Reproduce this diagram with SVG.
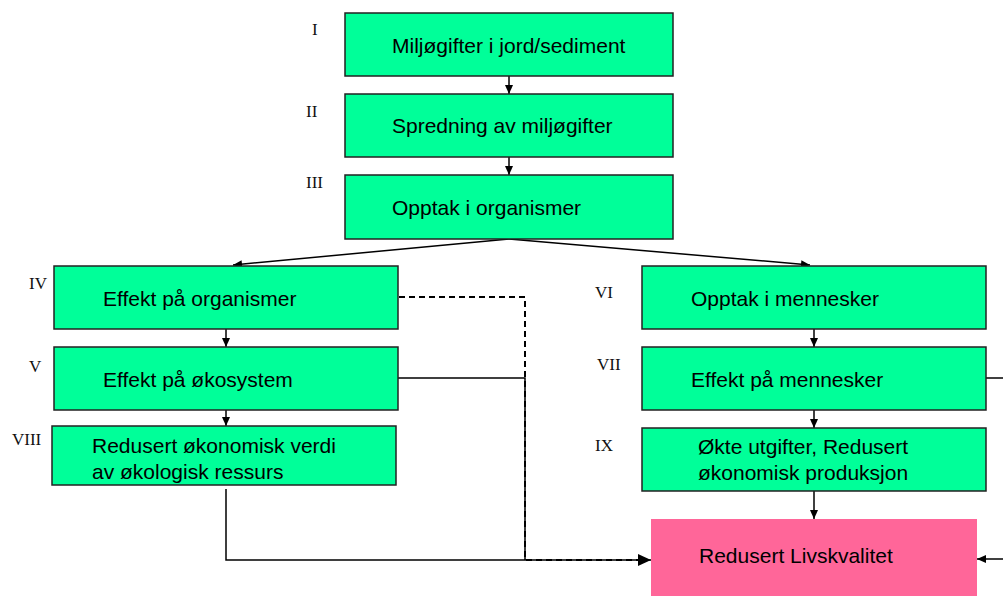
<svg xmlns="http://www.w3.org/2000/svg" width="1003" height="596" viewBox="0 0 1003 596">
<style>
.box{fill:#00FF99;stroke:#222;stroke-width:1.5}
.pink{fill:#FF6699;stroke:none}
.t{font-family:"Liberation Sans",Arial,sans-serif;font-size:21px;fill:#000}
.n{font-family:"Liberation Serif","Times New Roman",serif;font-size:17px;fill:#111}
.c{fill:none;stroke:#000;stroke-width:1.5}
.d{fill:none;stroke:#000;stroke-width:2;stroke-dasharray:6 4}
</style>
<defs>
<marker id="a" markerUnits="userSpaceOnUse" markerWidth="10" markerHeight="10" refX="9" refY="5" orient="auto"><path d="M0,1 L9,5 L0,9 Z" fill="#000"/></marker>
<marker id="b" markerUnits="userSpaceOnUse" markerWidth="14" markerHeight="14" refX="13" refY="7" orient="auto"><path d="M0,1 L13,7 L0,13 Z" fill="#000"/></marker>
</defs>
<rect width="1003" height="596" fill="#fff"/>
<g id="connectors">
<line class="c" x1="509" y1="76" x2="509" y2="94" marker-end="url(#a)"/>
<line class="c" x1="509" y1="157" x2="509" y2="175" marker-end="url(#a)"/>
<line class="c" x1="509" y1="239" x2="233" y2="265" marker-end="url(#a)"/>
<line class="c" x1="509" y1="239" x2="810" y2="265" marker-end="url(#a)"/>
<line class="c" x1="226" y1="329" x2="226" y2="347" marker-end="url(#a)"/>
<line class="c" x1="226" y1="410" x2="226" y2="426" marker-end="url(#a)"/>
<line class="c" x1="814" y1="329" x2="814" y2="347" marker-end="url(#a)"/>
<line class="c" x1="814" y1="410" x2="814" y2="428" marker-end="url(#a)"/>
<line class="c" x1="814" y1="491" x2="814" y2="519" marker-end="url(#a)"/>
<polyline class="c" points="397,378 525,378 525,560"/>
<polyline class="c" points="226,489 226,560 651,560" marker-end="url(#b)"/>
<polyline class="d" points="399,297 525,297 525,560 640,560"/>
<line class="c" x1="986" y1="378" x2="1003" y2="378"/>
<line class="c" x1="1003" y1="559" x2="977" y2="559" marker-end="url(#a)"/>
</g>
<g id="n1"><rect class="box" x="345" y="13" width="328" height="63"/><text class="t" x="392" y="53">Miljøgifter i jord/sediment</text><text class="n" x="312" y="35">I</text></g>
<g id="n2"><rect class="box" x="345" y="94" width="328" height="63"/><text class="t" x="392" y="133">Spredning av miljøgifter</text><text class="n" x="306" y="117">II</text></g>
<g id="n3"><rect class="box" x="345" y="175" width="328" height="64"/><text class="t" x="392" y="215">Opptak i organismer</text><text class="n" x="306" y="188">III</text></g>
<g id="n4"><rect class="box" x="54" y="266" width="344" height="63"/><text class="t" x="103" y="306">Effekt på organismer</text><text class="n" x="29" y="289">IV</text></g>
<g id="n5"><rect class="box" x="54" y="347" width="344" height="63"/><text class="t" x="103" y="387">Effekt på økosystem</text><text class="n" x="29" y="372">V</text></g>
<g id="n8"><rect class="box" x="52" y="426" width="344" height="59"/><text class="t" x="92" y="453">Redusert økonomisk verdi</text><text class="t" x="92" y="479">av økologisk ressurs</text><text class="n" x="12" y="445">VIII</text></g>
<g id="n6"><rect class="box" x="642" y="266" width="344" height="63"/><text class="t" x="691" y="306">Opptak i mennesker</text><text class="n" x="595" y="298">VI</text></g>
<g id="n7"><rect class="box" x="642" y="347" width="344" height="63"/><text class="t" x="691" y="387">Effekt på mennesker</text><text class="n" x="597" y="370">VII</text></g>
<g id="n9"><rect class="box" x="642" y="428" width="344" height="63"/><text class="t" x="698" y="454">Økte utgifter, Redusert</text><text class="t" x="698" y="480">økonomisk produksjon</text><text class="n" x="595" y="451">IX</text></g>
<g id="n10"><rect class="pink" x="651" y="519" width="326" height="77"/><text class="t" x="699" y="563">Redusert Livskvalitet</text></g>
</svg>
